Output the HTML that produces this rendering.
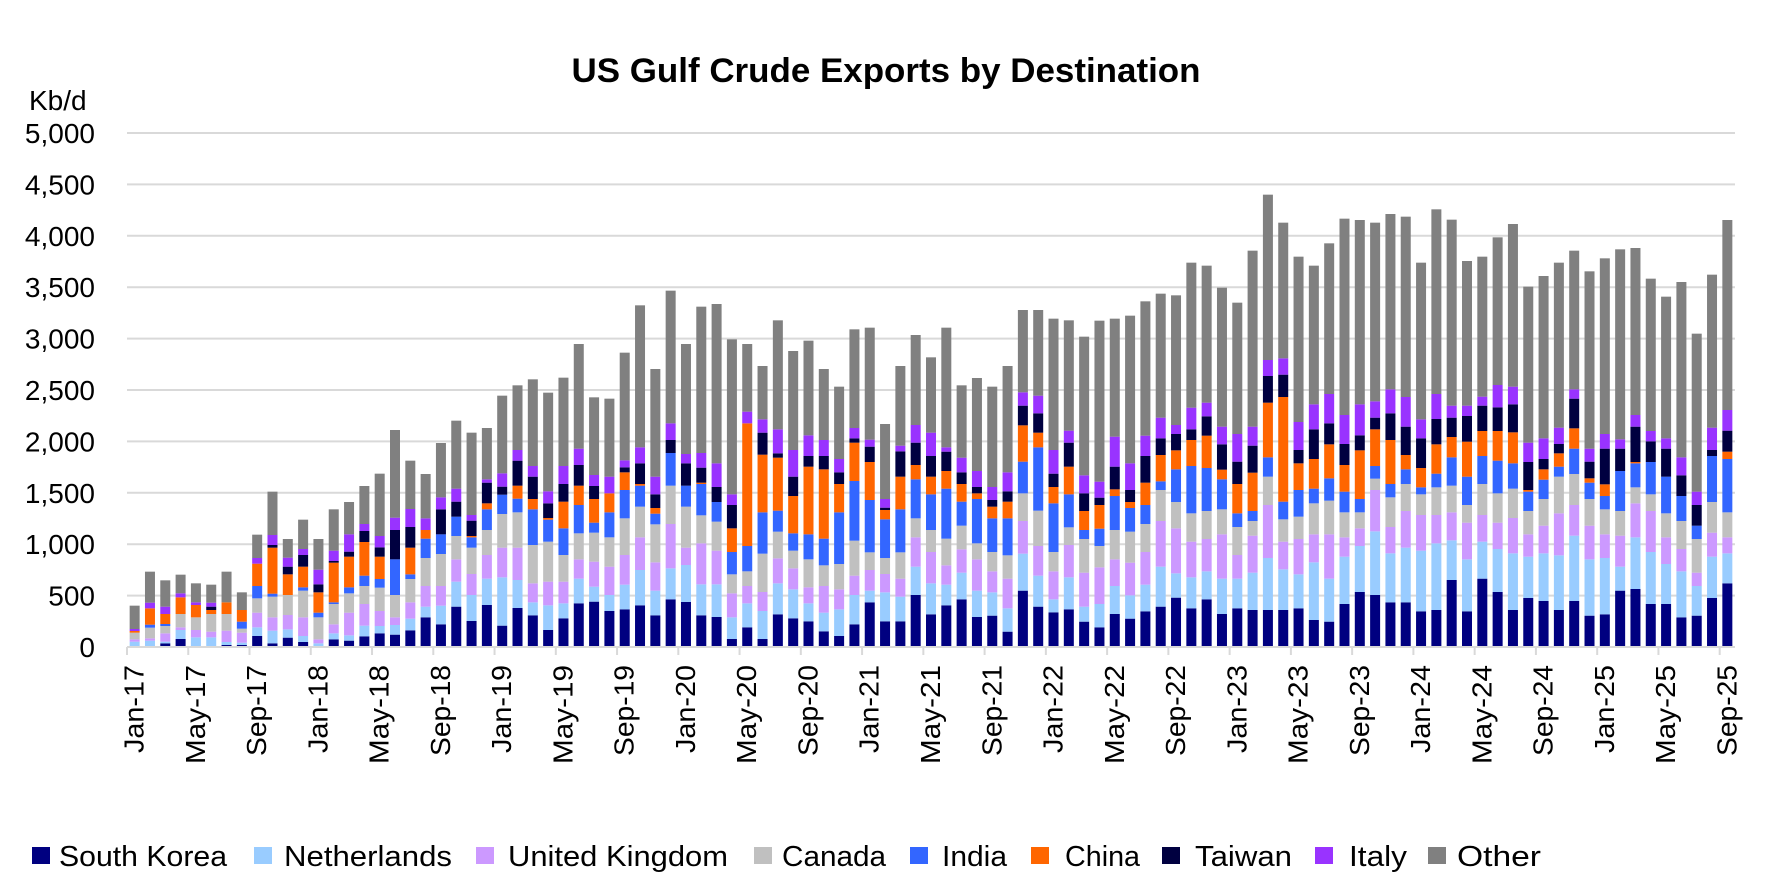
<!DOCTYPE html>
<html><head><meta charset="utf-8">
<style>
html,body{margin:0;padding:0;background:#fff;}
svg{display:block;}
text{font-family:"Liberation Sans",Arial,sans-serif;fill:#000;}
</style></head>
<body>
<svg id="c" width="1774" height="888" viewBox="0 0 1774 888" xmlns="http://www.w3.org/2000/svg">
<rect width="1774" height="888" fill="#fff"/>
<text x="886" y="82" text-anchor="middle" font-size="34" font-weight="bold" textLength="629" lengthAdjust="spacingAndGlyphs">US Gulf Crude Exports by Destination</text>
<text x="29" y="110" font-size="28">Kb/d</text>
<g id="grid"></g>
<g id="bars"></g>
<g id="axis"></g>
<g id="legend" font-size="29">
<rect x="32" y="847" width="18" height="17" fill="#000080"/><text x="59" y="866" textLength="168" lengthAdjust="spacingAndGlyphs">South Korea</text>
<rect x="254" y="847" width="18" height="17" fill="#99CCFF"/><text x="284" y="866" textLength="168" lengthAdjust="spacingAndGlyphs">Netherlands</text>
<rect x="476" y="847" width="18" height="17" fill="#CC99FF"/><text x="508" y="866" textLength="220" lengthAdjust="spacingAndGlyphs">United Kingdom</text>
<rect x="754" y="847" width="18" height="17" fill="#C0C0C0"/><text x="782" y="866" textLength="104" lengthAdjust="spacingAndGlyphs">Canada</text>
<rect x="910" y="847" width="18" height="17" fill="#3366FF"/><text x="942" y="866" textLength="65" lengthAdjust="spacingAndGlyphs">India</text>
<rect x="1031" y="847" width="18" height="17" fill="#FF6600"/><text x="1065" y="866" textLength="75" lengthAdjust="spacingAndGlyphs">China</text>
<rect x="1162" y="847" width="18" height="17" fill="#000040"/><text x="1195" y="866" textLength="97" lengthAdjust="spacingAndGlyphs">Taiwan</text>
<rect x="1315" y="847" width="18" height="17" fill="#9933FF"/><text x="1349" y="866" textLength="58" lengthAdjust="spacingAndGlyphs">Italy</text>
<rect x="1428" y="847" width="18" height="17" fill="#808080"/><text x="1457" y="866" textLength="84" lengthAdjust="spacingAndGlyphs">Other</text>
</g>
</svg>
<script>
const NS="http://www.w3.org/2000/svg";
function el(t,a,p,txt){const e=document.createElementNS(NS,t);for(const k in a)e.setAttribute(k,a[k]);if(txt!==undefined)e.textContent=txt;p.appendChild(e);return e;}
const X0=127,X1=1735,Y0=647,STEP=(X1-X0)/105,UNIT=51.4;
const colors=["#000080","#99CCFF","#CC99FF","#C0C0C0","#3366FF","#FF6600","#000040","#9933FF","#808080"];
const A=[
[1101,1085,1078,1058,1058,1053,1053,1047,977],
[1101,1082,1075,1043,1034,985,985,968,875],
[1090,1085,1060,1038,1032,1002,1002,980,901],
[1077,1050,1042,1002,1002,952,952,940,884],
[1101,1072,1050,1012,1012,975,975,967,910],
[1101,1072,1055,1002,1002,990,980,968,914],
[1095,1086,1052,1002,1002,967,967,967,875],
[1095,1088,1058,1046,1025,990,990,990,937],
[1068,1042,998,955,918,851,851,834,764],
[1090,1052,1012,950,941,803,795,765,635],
[1073,1048,1005,945,945,883,860,833,777],
[1086,1068,1012,932,922,860,825,807,719],
[1101,1090,1078,1012,998,937,913,869,777],
[1078,1060,1033,972,967,848,843,812,688],
[1082,1066,998,940,922,830,815,763,666],
[1069,1037,972,918,887,786,753,732,618],
[1060,1038,993,923,897,830,802,768,581],
[1064,1035,1012,945,838,838,750,713,450],
[1051,1016,967,897,883,803,741,687,542],
[1012,980,918,834,776,750,750,715,582],
[1033,977,918,822,763,763,688,652,489],
[980,905,838,768,710,710,665,626,422],
[1023,945,882,803,772,768,722,705,458],
[975,896,825,750,688,670,608,598,444],
[1037,892,803,702,644,644,620,580,347],
[984,900,803,697,656,617,542,510,316],
[1006,967,910,795,688,657,590,558,298],
[1050,976,905,785,719,714,670,634,338],
[1015,970,905,825,745,665,612,558,293],
[970,896,838,760,675,617,555,506,192],
[965,920,845,758,728,657,618,585,352],
[993,945,860,772,697,640,640,590,356],
[988,914,825,715,630,577,562,541,218],
[976,870,772,680,617,612,550,502,76],
[1006,932,847,733,701,684,643,590,267],
[958,865,732,617,519,519,480,430,32],
[966,855,803,680,617,617,550,522,192],
[1006,913,790,706,612,608,563,519,80],
[1011,913,812,725,666,666,621,550,72],
[1077,1012,940,883,816,745,675,643,178],
[1042,970,918,874,798,430,430,395,192],
[1077,993,936,821,697,524,458,418,258],
[1003,910,835,755,692,533,520,448,121],
[1015,928,865,812,760,648,590,510,213],
[1024,970,922,838,763,560,528,466,182],
[1054,998,918,856,776,568,528,480,267],
[1068,988,928,852,697,612,577,537,320],
[1033,945,887,782,603,488,475,444,148],
[967,932,870,817,660,546,500,479,143],
[1024,937,882,834,718,690,683,657,432],
[1024,950,896,817,688,590,514,497,258],
[945,860,772,715,598,555,488,435,165],
[1003,910,816,750,643,590,528,458,232],
[976,914,856,776,626,573,515,502,143],
[958,878,808,737,665,612,577,533,316],
[1011,932,838,790,657,640,621,573,294],
[1007,937,874,816,715,680,660,621,320],
[1055,985,896,826,715,665,634,577,258],
[932,821,723,640,545,436,377,337,90],
[980,887,798,692,502,458,400,347,90],
[997,958,874,816,670,621,581,510,116],
[988,892,795,742,643,560,488,452,121]
];
const B=[
[1325,1280,1178,1077,1050,993,940,886,470],
[1342,1272,1162,1098,1046,975,953,905,422],
[1302,1218,1138,1050,948,928,860,770,416],
[1316,1246,1148,1055,984,966,930,850,407],
[1294,1214,1116,1032,975,908,828,767,364],
[1280,1160,1023,930,904,825,775,713,341],
[1253,1180,1045,966,868,811,762,735,346],
[1285,1192,1085,1000,858,780,748,683,248],
[1258,1174,1077,993,864,767,709,668,257],
[1302,1196,1063,988,898,869,793,740,323],
[1285,1196,1125,1041,1000,912,845,762,368],
[1290,1178,1067,1023,993,878,797,740,212],
[1290,1134,975,890,832,668,588,540,44],
[1290,1168,1085,1018,965,651,584,535,128],
[1285,1183,1077,1010,930,850,810,726,230],
[1320,1147,1063,970,926,837,748,673,257],
[1325,1196,1063,962,895,793,730,642,190],
[1272,1130,1072,997,935,855,792,705,116],
[1236,1098,1045,997,957,811,766,673,120],
[1245,1054,930,896,858,748,713,664,128],
[1267,1120,1041,952,912,780,700,628,102],
[1267,1103,993,912,868,825,740,651,110],
[1294,1112,1005,943,922,864,775,718,248],
[1290,1090,1005,922,881,793,717,642,88],
[1200,1081,997,917,832,771,713,677,119],
[1294,1138,1028,975,890,785,708,677,243],
[1196,1085,1005,912,828,753,677,650,230],
[1236,1107,1028,940,842,753,682,615,172],
[1290,1120,1014,926,850,757,673,620,132],
[1254,1130,1063,993,935,930,846,788,320],
[1263,1120,1037,957,899,868,837,775,288],
[1290,1126,1000,890,860,820,792,743,248],
[1263,1067,975,882,806,745,656,628,212],
[1307,1138,1037,957,908,895,845,806,274],
[1303,1134,1063,988,948,913,806,762,235],
[1232,1160,1067,993,873,873,806,778,208],
[1227,1072,970,922,850,846,740,705,204],
[1272,1116,993,943,846,846,784,753,296],
[1272,1152,1072,1000,890,890,806,775,350],
[1312,1174,1107,1023,948,948,886,832,306],
[1307,1218,1178,1077,1037,1037,975,935,461],
[1254,1130,1058,966,828,828,810,743,284],
[1210,1120,1072,997,837,815,752,690,120]
];
const grid=document.getElementById("grid"),bars=document.getElementById("bars"),axis=document.getElementById("axis");
for(let k=0;k<=10;k++){
  const y=Y0-k*UNIT;
  if(k>0) el("line",{x1:X0,x2:X1,y1:y,y2:y,stroke:"#d9d9d9","stroke-width":2},grid);
  el("text",{x:95,y:y+10,"text-anchor":"end","font-size":28},axis,(k*500).toLocaleString("en-US"));
}
el("line",{x1:X0,x2:X1,y1:Y0,y2:Y0,stroke:"#d9d9d9","stroke-width":2},axis);
function drawBar(i,base,d){
  const cx=X0+(i+0.5)*STEP,w=10;let prev=Y0;
  for(let k=0;k<9;k++){
    let top=base+d[k]/3; if(top>prev) top=prev;
    if(prev-top>0.3) el("rect",{x:cx-w/2,y:top,width:w,height:prev-top,fill:colors[k]},bars);
    prev=top;
  }
}
A.forEach((d,i)=>drawBar(i,280,d));
B.forEach((d,j)=>drawBar(62+j,180,d));
const mons=["Jan","May","Sep"],lens=[88,99,91];
for(let i=0;i<105;i+=4){
  const x=X0+i*STEP;
  el("line",{x1:x,x2:x,y1:Y0,y2:Y0+8,stroke:"#d9d9d9","stroke-width":2},axis);
  const m=(i/4)%3,yr=17+Math.floor(i/12);
  const cx=X0+(i+0.5)*STEP+9;
  el("text",{x:0,y:0,"font-size":28,"text-anchor":"end",textLength:lens[m],lengthAdjust:"spacingAndGlyphs",transform:`translate(${cx},665) rotate(-90)`},axis,mons[m]+"-"+yr);
}
</script>
</body></html>
